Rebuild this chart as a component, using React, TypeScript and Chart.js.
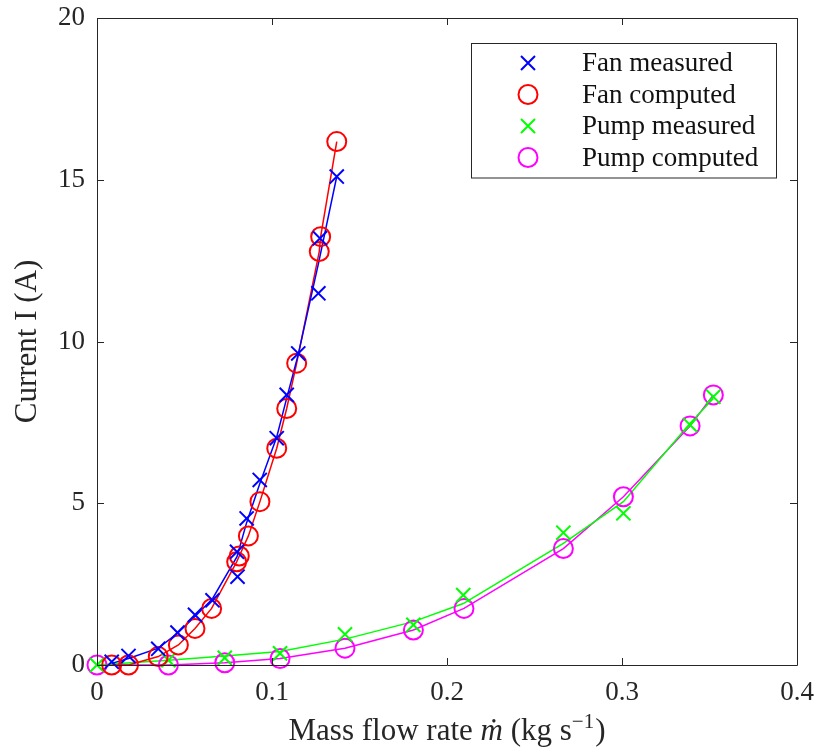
import React, { useEffect, useRef } from "react";
import { Chart, registerables } from "chart.js";

Chart.register(...registerables);

// ---- data ----
const fanMeasuredX = [0.0084, 0.018, 0.035, 0.046, 0.056, 0.066, 0.08, 0.0803, 0.0855, 0.093, 0.1027, 0.1084, 0.115, 0.1265, 0.1274, 0.137];
const fanMeasuredI = [0.1, 0.28, 0.5, 1.0, 1.55, 2.0, 3.5, 2.73, 4.53, 5.72, 7.01, 8.35, 9.63, 11.49, 13.19, 15.1];

const fanMeasuredFitX = [0.0084, 0.018, 0.035, 0.046, 0.056, 0.066, 0.08, 0.0855, 0.093, 0.1027, 0.1084, 0.115, 0.1265, 0.137];
const fanMeasuredFitI = [0.05, 0.2, 0.52, 0.98, 1.5, 2.05, 3.35, 4.4, 5.6, 7.05, 8.25, 9.6, 12.4, 15.1];

const fanComputedX = [0.0084, 0.018, 0.035, 0.0465, 0.056, 0.0655, 0.0798, 0.0813, 0.0865, 0.0931, 0.1027, 0.1084, 0.1141, 0.127, 0.1278, 0.137];
const fanComputedI = [0.0, 0.0, 0.26, 0.62, 1.13, 1.75, 3.19, 3.37, 3.99, 5.05, 6.7, 7.93, 9.33, 12.78, 13.24, 16.18];

const pumpMeasuredX = [0, 0.0408, 0.073, 0.1046, 0.1417, 0.1808, 0.2093, 0.2665, 0.3008, 0.3389, 0.3522];
const pumpMeasuredI = [0, 0.15, 0.22, 0.36, 0.95, 1.24, 2.16, 4.09, 4.69, 7.42, 8.29];

const pumpMeasuredFitX = [0, 0.0408, 0.073, 0.1046, 0.1417, 0.1808, 0.2093, 0.2665, 0.3008, 0.3389, 0.3522];
const pumpMeasuredFitI = [0, 0.15, 0.28, 0.42, 0.8, 1.34, 1.9, 3.76, 5.05, 7.47, 8.24];

const pumpComputedX = [0, 0.0408, 0.073, 0.1046, 0.1417, 0.1808, 0.2097, 0.2665, 0.3008, 0.3389, 0.3522];
const pumpComputedI = [0, 0.0, 0.07, 0.2, 0.52, 1.08, 1.75, 3.6, 5.2, 7.39, 8.35];

const xTicks = [0, 0.1, 0.2, 0.3, 0.4];
const yTicks = [0, 5, 10, 15, 20];

const legendLabels = ["Fan measured", "Fan computed", "Pump measured", "Pump computed"];
// x-axis title pieces: [text, style]  (n = normal, i = italic, s = superscript)
const xTitleParts: [string, string][] = [["Mass flow rate ", "n"], ["ṁ", "i"], [" (kg s", "n"], ["−1", "s"], [")", "n"]];
const yTitle = "Current I (A)";

const BLUE = "#0000ff";
const RED = "#ff0000";
const GREEN = "#00ff00";
const MAGENTA = "#ff00ff";
const AXIS = "#262626";
const FONT = "'Liberation Serif', 'DejaVu Serif', serif";

const pts = (xs: number[], ys: number[]) => xs.map((x, i) => ({ x, y: ys[i] }));

const partFont = (style: string) =>
  style === "i" ? `italic 31px ${FONT}` : style === "s" ? `21px ${FONT}` : `31px ${FONT}`;

const frameAndLegend = {
  id: "frameAndLegend",
  afterDatasetsDraw(chart: any) {
    const { ctx, chartArea: a, scales } = chart;
    ctx.save();
    ctx.strokeStyle = AXIS;
    ctx.lineWidth = 1;
    ctx.beginPath();
    ctx.rect(Math.round(a.left) + 0.5, Math.round(a.top) + 0.5, Math.round(a.right - a.left), Math.round(a.bottom - a.top));
    ctx.stroke();
    const tl = 7;
    ctx.beginPath();
    xTicks.forEach((v) => {
      const px = Math.round(scales.x.getPixelForValue(v)) + 0.5;
      ctx.moveTo(px, a.bottom);
      ctx.lineTo(px, a.bottom - tl);
      ctx.moveTo(px, a.top);
      ctx.lineTo(px, a.top + tl);
    });
    yTicks.forEach((v) => {
      const py = Math.round(scales.y.getPixelForValue(v)) + 0.5;
      ctx.moveTo(a.left, py);
      ctx.lineTo(a.left + tl, py);
      ctx.moveTo(a.right, py);
      ctx.lineTo(a.right - tl, py);
    });
    ctx.stroke();
    ctx.restore();
  },
  afterDraw(chart: any) {
    const { ctx, chartArea: a } = chart;
    // x-axis title with italic m-dot and superscript
    ctx.save();
    ctx.fillStyle = AXIS;
    ctx.textBaseline = "alphabetic";
    ctx.textAlign = "left";
    let total = 0;
    xTitleParts.forEach(([t, s]) => {
      ctx.font = partFont(s);
      total += ctx.measureText(t).width + (s === "s" ? 1 : 0);
    });
    let x = (a.left + a.right) / 2 - total / 2;
    const base = 740;
    xTitleParts.forEach(([t, s]) => {
      ctx.font = partFont(s);
      ctx.fillText(t, x, s === "s" ? base - 12 : base);
      x += ctx.measureText(t).width + (s === "s" ? 1 : 0);
    });
    ctx.restore();

    // legend
    const w = 305;
    const rowH = 31.5;
    const h = 40 + rowH * 3;
    const left = Math.round(a.right - 21 - w);
    const top = Math.round(a.top + 25);
    ctx.save();
    ctx.fillStyle = "#ffffff";
    ctx.fillRect(left, top, w, h);
    ctx.strokeStyle = AXIS;
    ctx.lineWidth = 1;
    ctx.strokeRect(left + 0.5, top + 0.5, w, h);
    const styles = [
      { c: BLUE, s: "x" },
      { c: RED, s: "o" },
      { c: GREEN, s: "x" },
      { c: MAGENTA, s: "o" },
    ];
    ctx.font = `27px ${FONT}`;
    ctx.textBaseline = "middle";
    ctx.textAlign = "left";
    legendLabels.forEach((lab, i) => {
      const cy = top + 20 + i * rowH;
      const cx = left + 57;
      ctx.strokeStyle = styles[i].c;
      ctx.lineWidth = 2;
      ctx.beginPath();
      if (styles[i].s === "x") {
        const d = 7;
        ctx.moveTo(cx - d, cy - d);
        ctx.lineTo(cx + d, cy + d);
        ctx.moveTo(cx + d, cy - d);
        ctx.lineTo(cx - d, cy + d);
      } else {
        ctx.arc(cx, cy, 9.5, 0, Math.PI * 2);
      }
      ctx.stroke();
      ctx.fillStyle = "#111111";
      ctx.fillText(lab, left + 111, cy + 1);
    });
    ctx.restore();
  },
};

export default function App() {
  const ref = useRef<HTMLCanvasElement | null>(null);

  useEffect(() => {
    if (!ref.current) return;
    const markerBase = { showLine: false, clip: false as any, pointBorderWidth: 2, pointBackgroundColor: "rgba(0,0,0,0)" };
    const chart = new Chart(ref.current, {
      type: "scatter",
      data: {
        datasets: [
          { ...markerBase, label: legendLabels[0], data: pts(fanMeasuredX, fanMeasuredI), pointStyle: "crossRot", pointRadius: 10, pointBorderColor: BLUE, borderColor: BLUE },
          { ...markerBase, label: legendLabels[1], data: pts(fanComputedX, fanComputedI), pointStyle: "circle", pointRadius: 9.5, pointBorderColor: RED, borderColor: RED },
          { ...markerBase, label: legendLabels[2], data: pts(pumpMeasuredX, pumpMeasuredI), pointStyle: "crossRot", pointRadius: 10, pointBorderColor: GREEN, borderColor: GREEN },
          { ...markerBase, label: legendLabels[3], data: pts(pumpComputedX, pumpComputedI), pointStyle: "circle", pointRadius: 9.5, pointBorderColor: MAGENTA, borderColor: MAGENTA },
          { label: "fan measured fit", data: pts(fanMeasuredFitX, fanMeasuredFitI), showLine: true, pointRadius: 0, borderColor: BLUE, borderWidth: 1.5, clip: false as any },
          { label: "fan computed line", data: pts(fanComputedX, fanComputedI), showLine: true, pointRadius: 0, borderColor: RED, borderWidth: 1.5, clip: false as any },
          { label: "pump measured fit", data: pts(pumpMeasuredFitX, pumpMeasuredFitI), showLine: true, pointRadius: 0, borderColor: GREEN, borderWidth: 1.5, clip: false as any },
          { label: "pump computed line", data: pts(pumpComputedX, pumpComputedI), showLine: true, pointRadius: 0, borderColor: MAGENTA, borderWidth: 1.5, clip: false as any },
        ],
      },
      options: {
        responsive: false,
        animation: false,
        events: [],
        layout: { padding: { left: 0, right: 24, top: 18, bottom: 0 } },
        plugins: { legend: { display: false }, tooltip: { enabled: false } },
        scales: {
          x: {
            type: "linear",
            min: 0,
            max: 0.4,
            afterFit: (s: any) => { s.height = 89; s.paddingLeft = 0; s.paddingRight = 0; },
            afterBuildTicks: (s: any) => { s.ticks = xTicks.map((v) => ({ value: v })); },
            grid: { display: false, drawTicks: false },
            border: { display: false },
            ticks: {
              padding: 12,
              color: AXIS,
              font: { family: FONT, size: 27 },
              maxRotation: 0,
              callback: (v: any) => String(Number(Number(v).toFixed(1))),
            },
            title: { display: false },
          },
          y: {
            type: "linear",
            min: 0,
            max: 20,
            afterFit: (s: any) => { s.width = 97; s.paddingTop = 0; s.paddingBottom = 0; },
            afterBuildTicks: (s: any) => { s.ticks = yTicks.map((v) => ({ value: v })); },
            grid: { display: false, drawTicks: false },
            border: { display: false },
            ticks: {
              padding: 12,
              color: AXIS,
              font: { family: FONT, size: 27 },
              callback: (v: any) => String(v),
            },
            title: { display: true, text: yTitle, color: AXIS, font: { family: FONT, size: 31 }, padding: { top: 9, bottom: 0 } },
          },
        },
      },
      plugins: [frameAndLegend],
    });
    return () => chart.destroy();
  }, []);

  return (
    <div style={{ position: "fixed", left: 0, top: 0, width: 821, height: 754, background: "#ffffff" }}>
      <canvas ref={ref} width={821} height={754} style={{ display: "block" }} />
    </div>
  );
}
